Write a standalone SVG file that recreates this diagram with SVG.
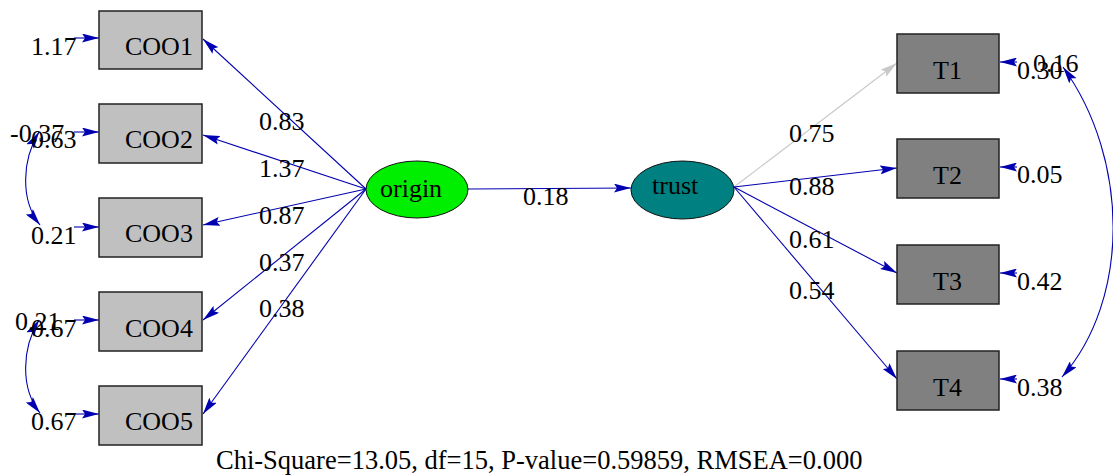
<svg xmlns="http://www.w3.org/2000/svg" width="1113" height="475" viewBox="0 0 1113 475">
<style>
text{font-family:"Liberation Serif","Times New Roman",serif;font-size:26px;fill:#000}
.obs1{fill:#c0c0c0;stroke:#222;stroke-width:1.5}
.obs2{fill:#808080;stroke:#222;stroke-width:1.5}
.lat{stroke:#111;stroke-width:1}
.c{fill:none;stroke:#0000b0;stroke-width:1.1;marker-end:url(#ah)}
.cg{fill:none;stroke:#c8c8c8;stroke-width:1.1;marker-end:url(#ahg)}
.cc{fill:none;stroke:#0000b0;stroke-width:1.1;marker-end:url(#ah);marker-start:url(#ah)}
</style>
<defs>
<marker id="ah" markerUnits="userSpaceOnUse" markerWidth="17" markerHeight="9" refX="17" refY="4.5" orient="auto-start-reverse">
<path d="M0,0 L17,4.5 L0,9 L3,4.5 z" fill="#0000b0"/>
</marker>
<marker id="ahg" markerUnits="userSpaceOnUse" markerWidth="17" markerHeight="9" refX="17" refY="4.5" orient="auto">
<path d="M0,0 L17,4.5 L0,9 L3,4.5 z" fill="#c8c8c8"/>
</marker>
</defs>
<g id="connectors">
<line class="c" x1="74" y1="38" x2="99" y2="38"/>
<line class="c" x1="74" y1="132" x2="99" y2="132"/>
<line class="c" x1="74" y1="227" x2="99" y2="227"/>
<line class="c" x1="74" y1="320" x2="99" y2="320"/>
<line class="c" x1="74" y1="414" x2="99" y2="414"/>
<path class="cc" d="M39,132 C22,160 20,200 40,225"/>
<path class="cc" d="M39,320 C22,348 20,388 40,413"/>
<line class="c" x1="366" y1="189" x2="203" y2="39"/>
<line class="c" x1="366" y1="189" x2="203" y2="135"/>
<line class="c" x1="366" y1="189" x2="203" y2="225"/>
<line class="c" x1="366" y1="189" x2="203" y2="320"/>
<line class="c" x1="366" y1="189" x2="203" y2="414"/>
<line class="c" x1="468" y1="189" x2="631" y2="188"/>
<line class="cg" x1="734" y1="187" x2="897" y2="63"/>
<line class="c" x1="734" y1="187" x2="897" y2="168"/>
<line class="c" x1="734" y1="187" x2="897" y2="273"/>
<line class="c" x1="734" y1="187" x2="897" y2="379"/>
<line class="c" x1="1017" y1="62" x2="1000" y2="62"/>
<line class="c" x1="1017" y1="167" x2="1000" y2="167"/>
<line class="c" x1="1017" y1="273" x2="1000" y2="273"/>
<line class="c" x1="1017" y1="379" x2="1000" y2="379"/>
<path class="cc" d="M1063,67 C1130,160 1130,300 1062,377"/>
<text x="259" y="130">0.83</text>
<text x="259" y="177">1.37</text>
<text x="259" y="224">0.87</text>
<text x="259" y="271">0.37</text>
<text x="259" y="317">0.38</text>
<text x="523" y="205">0.18</text>
<text x="789" y="142">0.75</text>
<text x="789" y="195">0.88</text>
<text x="789" y="248">0.61</text>
<text x="789" y="299">0.54</text>
</g>
<g id="COO1"><rect class="obs1" x="99" y="11" width="103" height="58"/><text x="125" y="55">COO1</text><text x="31" y="55">1.17</text></g>
<g id="COO2"><rect class="obs1" x="99" y="104" width="103" height="59"/><text x="125" y="148">COO2</text><text x="10" y="142">-0.37</text><text x="31" y="148">0.63</text></g>
<g id="COO3"><rect class="obs1" x="99" y="198" width="103" height="59"/><text x="125" y="242">COO3</text><text x="31" y="244">0.21</text></g>
<g id="COO4"><rect class="obs1" x="99" y="292" width="103" height="59"/><text x="125" y="337">COO4</text><text x="15" y="330">0.21</text><text x="31" y="337">0.67</text></g>
<g id="COO5"><rect class="obs1" x="99" y="386" width="103" height="59"/><text x="125" y="430">COO5</text><text x="31" y="430">0.67</text></g>
<g id="origin"><ellipse class="lat" cx="417" cy="189.5" rx="51" ry="28.5" fill="#00ee00"/><text x="380" y="197">origin</text></g>
<g id="trust"><ellipse class="lat" cx="682.5" cy="190" rx="51.5" ry="29" fill="#008080"/><text x="652" y="194">trust</text></g>
<g id="T1"><rect class="obs2" x="897" y="34" width="102" height="59"/><text x="933" y="79">T1</text><text x="1017" y="79">0.30</text><text x="1033" y="72">0.16</text></g>
<g id="T2"><rect class="obs2" x="897" y="139" width="102" height="59"/><text x="933" y="184">T2</text><text x="1017" y="183">0.05</text></g>
<g id="T3"><rect class="obs2" x="897" y="245" width="102" height="59"/><text x="933" y="290">T3</text><text x="1017" y="290">0.42</text></g>
<g id="T4"><rect class="obs2" x="897" y="351" width="102" height="59"/><text x="933" y="396">T4</text><text x="1017" y="396">0.38</text></g>
<text x="216" y="469" style="font-size:26.5px">Chi-Square=13.05, df=15, P-value=0.59859, RMSEA=0.000</text>
</svg>
